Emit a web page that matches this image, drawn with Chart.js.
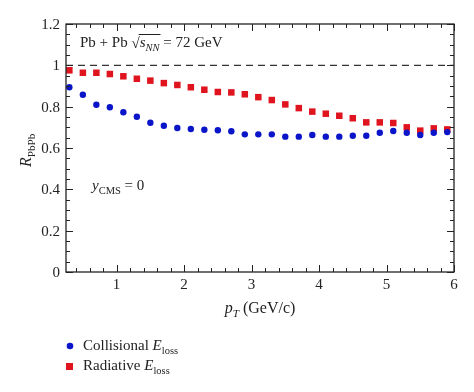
<!DOCTYPE html>
<html>
<head>
<meta charset="utf-8">
<script src="https://cdn.jsdelivr.net/npm/chart.js@4"></script>
<style>
  html, body { margin: 0; padding: 0; background: #fff; }
  #wrap { width: 474px; height: 392px; }
</style>
</head>
<body>
<div id="wrap"><canvas id="raaChart" width="474" height="392"></canvas></div>
<script>
// pT points (GeV/c)
const pt = [0.3, 0.5, 0.7, 0.9, 1.1, 1.3, 1.5, 1.7, 1.9, 2.1, 2.3, 2.5, 2.7, 2.9, 3.1,
  3.3, 3.5, 3.7, 3.9, 4.1, 4.3, 4.5, 4.7, 4.9, 5.1, 5.3, 5.5, 5.7, 5.9];
const collisional = [0.894, 0.858, 0.809, 0.797, 0.773, 0.751, 0.722, 0.708, 0.697, 0.692,
  0.688, 0.686, 0.681, 0.666, 0.666, 0.666, 0.655, 0.655, 0.663, 0.655, 0.655, 0.659,
  0.659, 0.674, 0.682, 0.674, 0.663, 0.674, 0.677];
const radiative = [0.976, 0.964, 0.964, 0.958, 0.947, 0.935, 0.926, 0.914, 0.905, 0.894,
  0.882, 0.871, 0.869, 0.860, 0.846, 0.832, 0.811, 0.793, 0.776, 0.766, 0.756, 0.744,
  0.724, 0.724, 0.721, 0.700, 0.684, 0.695, 0.690];
const xTicks = [1, 2, 3, 4, 5, 6];
const yTicks = [0, 0.2, 0.4, 0.6, 0.8, 1, 1.2];
const yTickLabels = ['0', '0.2', '0.4', '0.6', '0.8', '1', '1.2'];

const SERIF = '"Liberation Serif", "DejaVu Serif", serif';
const BLUE = '#0a14c8';
const RED = '#e0141e';

// draw text runs with italic / subscript parts
function drawRuns(ctx, x, y, runs, size) {
  runs.forEach(r => {
    const s = r.sub ? size * 0.7 : size;
    ctx.font = (r.it ? 'italic ' : '') + s + 'px ' + SERIF;
    const dy = r.sub ? size * 0.28 : 0;
    ctx.fillText(r.t, x, y + dy);
    x += ctx.measureText(r.t).width;
  });
  return x;
}

const framePlugin = {
  id: 'frame',
  afterDatasetsDraw(chart) {
    const { ctx, chartArea: a, scales: { x, y } } = chart;
    ctx.save();
    // dashed reference line
    ctx.strokeStyle = '#333';
    ctx.lineWidth = 1.3;
    ctx.setLineDash([7, 5]);
    ctx.beginPath();
    ctx.moveTo(a.left, y.getPixelForValue(1));
    ctx.lineTo(a.right, y.getPixelForValue(1));
    ctx.stroke();
    ctx.setLineDash([]);

    // frame
    ctx.strokeStyle = '#222';
    ctx.lineWidth = 1.3;
    ctx.strokeRect(a.left, a.top, a.right - a.left, a.bottom - a.top);

    // ticks
    ctx.lineWidth = 1;
    ctx.beginPath();
    for (let v = 0.4; v < 6.001; v += 0.2) {
      const px = Math.round(x.getPixelForValue(v)) + 0.5;
      const major = Math.abs(v - Math.round(v)) < 0.01;
      const len = major ? 7 : 4;
      ctx.moveTo(px, a.bottom); ctx.lineTo(px, a.bottom - len);
      ctx.moveTo(px, a.top); ctx.lineTo(px, a.top + len);
    }
    for (let i = 0; i <= 24; i++) {
      const v = i * 0.05;
      const py = Math.round(y.getPixelForValue(v)) + 0.5;
      const len = i % 4 === 0 ? 7 : 4;
      ctx.moveTo(a.left, py); ctx.lineTo(a.left + len, py);
      ctx.moveTo(a.right, py); ctx.lineTo(a.right - len, py);
    }
    ctx.stroke();

    // tick labels
    ctx.fillStyle = '#222';
    ctx.font = '15px ' + SERIF;
    ctx.textAlign = 'center';
    ctx.textBaseline = 'alphabetic';
    xTicks.forEach(v => ctx.fillText(String(v), x.getPixelForValue(v), a.bottom + 17));
    ctx.textAlign = 'right';
    yTicks.forEach((v, i) => ctx.fillText(yTickLabels[i], a.left - 6, y.getPixelForValue(v) + 5));

    // axis titles
    ctx.textAlign = 'left';
    const xt = [{ t: 'p', it: true }, { t: 'T', it: true, sub: true }, { t: ' (GeV/c)' }];
    let w = 0;
    xt.forEach(r => {
      ctx.font = (r.it ? 'italic ' : '') + (r.sub ? 11.2 : 16) + 'px ' + SERIF;
      w += ctx.measureText(r.t).width;
    });
    drawRuns(ctx, (a.left + a.right) / 2 - w / 2, a.bottom + 41, xt, 16);

    ctx.save();
    ctx.translate(31, (a.top + a.bottom) / 2);
    ctx.rotate(-Math.PI / 2);
    const yt = [{ t: 'R', it: true }, { t: 'PbPb', sub: true }];
    drawRuns(ctx, -19, 0, yt, 16);
    ctx.restore();

    // annotations
    let cx = drawRuns(ctx, a.left + 14, a.top + 23, [{ t: 'Pb + Pb ' }], 15);
    ctx.font = '15px ' + SERIF;
    ctx.fillText('\u221A', cx, a.top + 24);
    cx += ctx.measureText('\u221A').width;
    const rootStart = cx;
    cx = drawRuns(ctx, cx, a.top + 23, [{ t: 's', it: true }, { t: 'NN', it: true, sub: true }], 15);
    ctx.lineWidth = 1;
    ctx.beginPath();
    ctx.moveTo(rootStart - 1, a.top + 10.5);
    ctx.lineTo(cx + 1, a.top + 10.5);
    ctx.stroke();
    drawRuns(ctx, cx, a.top + 23, [{ t: ' = 72 GeV' }], 15);

    drawRuns(ctx, a.left + 26, a.top + 166, [{ t: 'y', it: true }, { t: 'CMS', sub: true }, { t: ' = 0' }], 15);

    // legend
    chart.data.datasets.forEach((ds, i) => {
      const ly = 346 + i * 20;
      ctx.fillStyle = ds.backgroundColor;
      if (ds.pointStyle === 'rect') {
        ctx.fillRect(66, ly - 3, 7, 7);
      } else {
        ctx.beginPath();
        ctx.arc(70, ly, 3.3, 0, Math.PI * 2);
        ctx.fill();
      }
      ctx.fillStyle = '#222';
      drawRuns(ctx, 83, ly + 4, [{ t: ds.label + ' ' }, { t: 'E', it: true }, { t: 'loss', sub: true }], 15);
    });
    ctx.restore();
  }
};

const ctx = document.getElementById('raaChart').getContext('2d');
const chart = new Chart(ctx, {
  type: 'scatter',
  data: {
    datasets: [{
      label: 'Collisional',
      data: pt.map((v, i) => ({ x: v, y: collisional[i] })),
      backgroundColor: BLUE,
      borderColor: BLUE,
      pointStyle: 'circle',
      pointRadius: 3.2,
      borderWidth: 0,
    }, {
      label: 'Radiative',
      data: pt.map((v, i) => ({ x: v, y: radiative[i] })),
      backgroundColor: RED,
      borderColor: RED,
      pointStyle: 'rect',
      pointRadius: 4.6,
      borderWidth: 0,
    }]
  },
  options: {
    responsive: false,
    animation: false,
    layout: { padding: { left: 66, top: 24, right: 20, bottom: 120 } },
    plugins: { legend: { display: false }, tooltip: { enabled: false } },
    scales: {
      x: { type: 'linear', min: 0.25, max: 6, display: false },
      y: { type: 'linear', min: 0, max: 1.2, display: false }
    }
  },
  plugins: [framePlugin]
});
</script>
</body>
</html>
